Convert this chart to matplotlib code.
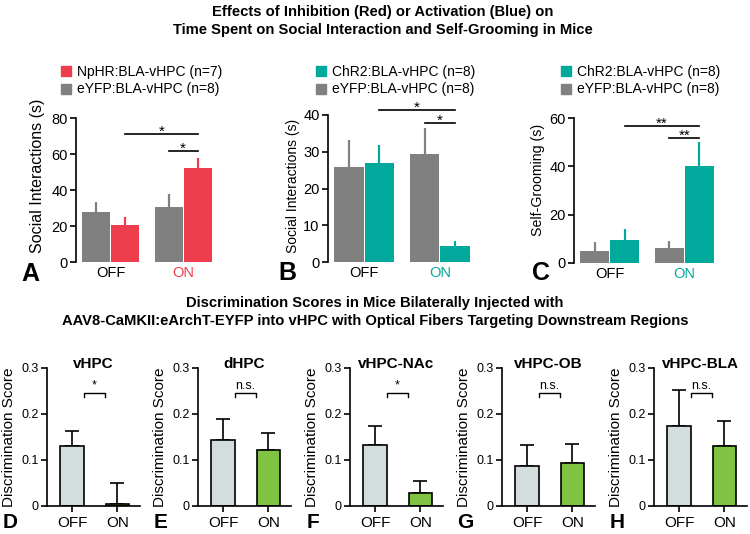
import numpy as np
import matplotlib
matplotlib.use('Agg')
import matplotlib.pyplot as plt
from matplotlib.patches import Patch

plt.rcParams['font.family'] = ['Liberation Sans', 'DejaVu Sans']

W, H = 750, 534
GREY = '#808080'
RED = '#ee3e4e'
TEAL = '#00a99c'
PALE = '#d4dddd'
GREEN = '#80c342'

conds = ['OFF', 'ON']

# top row: social interaction / self-grooming (control eYFP vs opsin)
a_eyfp = [27.8, 30.6]
a_eyfp_err = [5.5, 7.2]
a_nphr = [20.5, 52.2]
a_nphr_err = [4.5, 5.6]
a_sig = [(0.2, 1.2, 71.0, '*'), (0.8, 1.2, 61.6, '*')]

b_eyfp = [25.9, 29.4]
b_eyfp_err = [7.3, 7.1]
b_chr2 = [26.9, 4.3]
b_chr2_err = [4.9, 1.4]
b_sig = [(0.2, 1.2, 41.4, '*'), (0.8, 1.2, 37.8, '*')]

c_eyfp = [5.0, 6.2]
c_eyfp_err = [3.7, 2.9]
c_chr2 = [9.5, 40.1]
c_chr2_err = [4.5, 9.9]
c_sig = [(0.2, 1.2, 56.7, '**'), (0.8, 1.2, 51.7, '**')]

# bottom row: discrimination scores
regions = ['vHPC', 'dHPC', 'vHPC-NAc', 'vHPC-OB', 'vHPC-BLA']
score_off = [0.131, 0.144, 0.133, 0.087, 0.175]
score_off_err = [0.031, 0.046, 0.040, 0.045, 0.077]
score_on = [0.004, 0.121, 0.028, 0.093, 0.130]
score_on_err = [0.045, 0.038, 0.027, 0.041, 0.054]
score_sig = ['*', 'n.s.', '*', 'n.s.', 'n.s.']
sig_level = 0.245

fig = plt.figure(figsize=(7.5, 5.34), dpi=100)


def box(x0, y_top, x1, y_bot):
    return [x0 / W, 1 - y_bot / H, (x1 - x0) / W, (y_bot - y_top) / H]


def top_panel(rect, ctrl, ctrl_err, opto, opto_err, color, ymax, ystep,
              ylabel, ylab_size, ylab_xy, sig, leg_labels, leg_xy, letter, letter_xy):
    ax = fig.add_axes(rect)
    x = np.arange(len(conds))
    ax.bar(x - 0.2, ctrl, 0.39, color=GREY)
    ax.bar(x + 0.2, opto, 0.39, color=color)
    ax.vlines(x - 0.2, ctrl, np.add(ctrl, ctrl_err), color=GREY, lw=1.6)
    ax.vlines(x + 0.2, opto, np.add(opto, opto_err), color=color, lw=1.6)
    for x0, x1, y, s in sig:
        ax.plot([x0, x1], [y, y], color='black', lw=1.2, clip_on=False)
        ax.text((x0 + x1) / 2, y - ymax * 0.012, s, ha='center', va='baseline',
                fontsize=11, clip_on=False)
    ax.set_xlim(-0.48, 1.44)
    ax.set_ylim(0, ymax)
    ax.set_yticks(np.arange(0, ymax + 1, ystep))
    ax.set_xticks(x)
    ax.set_xticklabels(conds, fontsize=10.5)
    ax.get_xticklabels()[1].set_color(color)
    ax.tick_params(axis='x', length=0, pad=3)
    ax.tick_params(axis='y', labelsize=10.5, length=4, width=1.2, pad=2)
    for s in ['top', 'right', 'bottom']:
        ax.spines[s].set_visible(False)
    ax.spines['left'].set_linewidth(1.2)
    ax.set_ylabel(ylabel, fontsize=ylab_size)
    ax.yaxis.set_label_coords(*ylab_xy)
    fig.legend(handles=[Patch(color=color), Patch(color=GREY)], labels=leg_labels,
               loc='upper left', bbox_to_anchor=(leg_xy[0] / W, 1 - leg_xy[1] / H),
               frameon=False, fontsize=10, handlelength=0.75, handleheight=0.75,
               handletextpad=0.4, labelspacing=0.25, borderpad=0, borderaxespad=0)
    fig.text(letter_xy[0] / W, 1 - letter_xy[1] / H, letter, fontsize=18,
             weight='bold', ha='center', va='center')
    return ax


top_panel(box(76, 118, 215, 262), a_eyfp, a_eyfp_err, a_nphr, a_nphr_err, RED,
          80, 20, 'Social Interactions (s)', 11.5, (-0.22, 0.6), a_sig,
          ['NpHR:BLA-vHPC (n=7)', 'eYFP:BLA-vHPC (n=8)'], (61, 65), 'A', (30, 274))
top_panel(box(328, 115, 473, 262), b_eyfp, b_eyfp_err, b_chr2, b_chr2_err, TEAL,
          40, 10, 'Social Interactions (s)', 10, (-0.19, 0.52), b_sig,
          ['ChR2:BLA-vHPC (n=8)', 'eYFP:BLA-vHPC (n=8)'], (316, 65), 'B', (287, 273))
top_panel(box(574, 118, 717, 263), c_eyfp, c_eyfp_err, c_chr2, c_chr2_err, TEAL,
          60, 20, 'Self-Grooming (s)', 10.2, (-0.2, 0.57), c_sig,
          ['ChR2:BLA-vHPC (n=8)', 'eYFP:BLA-vHPC (n=8)'], (561, 65), 'C', (541, 273))

# bottom row
lefts = [47, 198, 350, 502, 654]
letters = ['D', 'E', 'F', 'G', 'H']
for i, name in enumerate(regions):
    x0 = lefts[i]
    ax = fig.add_axes(box(x0, 368, x0 + 93, 506))
    x = np.arange(len(conds))
    ax.bar(x, [score_off[i], score_on[i]], 0.52, color=[PALE, GREEN],
           edgecolor='black', linewidth=1.2, zorder=2)
    ax.errorbar(x, [score_off[i], score_on[i]],
                yerr=[[0, 0], [score_off_err[i], score_on_err[i]]],
                fmt='none', ecolor='black', elinewidth=1.2, capsize=5,
                capthick=1.2, zorder=1)
    ax.plot([0.27, 0.27, 0.73, 0.73],
            [sig_level - 0.008, sig_level, sig_level, sig_level - 0.008],
            color='black', lw=1.0, clip_on=False)
    ax.text(0.5, sig_level + 0.003, score_sig[i], ha='center', va='bottom',
            fontsize=9)
    ax.set_xlim(-0.55, 1.5)
    ax.set_ylim(0, 0.3)
    ax.set_yticks([0, 0.1, 0.2, 0.3])
    ax.set_yticklabels(['0', '0.1', '0.2', '0.3'])
    ax.set_xticks(x)
    ax.set_xticklabels(conds, fontsize=11)
    ax.tick_params(axis='x', length=4, width=1.2, pad=3)
    ax.tick_params(axis='y', labelsize=9, length=4, width=1.2, pad=2)
    for s in ['top', 'right']:
        ax.spines[s].set_visible(False)
    for s in ['left', 'bottom']:
        ax.spines[s].set_linewidth(1.2)
    ax.set_ylabel('Discrimination Score', fontsize=11)
    ax.yaxis.set_label_coords(-0.33, 0.5)
    ax.text(0.5, 1.03, name, transform=ax.transAxes, ha='center', va='center',
            fontsize=11, weight='bold')
    fig.text((x0 - 37) / W, 1 - 523 / H, letters[i], fontsize=15,
             weight='bold', ha='center', va='center')

title_size = 10.6
fig.text(0.51, 1 - 12 / H, 'Effects of Inhibition (Red) or Activation (Blue) on',
         ha='center', va='center', fontsize=title_size, weight='bold')
fig.text(0.51, 1 - 30 / H, 'Time Spent on Social Interaction and Self-Grooming in Mice',
         ha='center', va='center', fontsize=title_size, weight='bold')
fig.text(0.5, 1 - 303 / H, 'Discrimination Scores in Mice Bilaterally Injected with',
         ha='center', va='center', fontsize=title_size, weight='bold')
fig.text(0.5, 1 - 321 / H,
         'AAV8-CaMKII:eArchT-EYFP into vHPC with Optical Fibers Targeting Downstream Regions',
         ha='center', va='center', fontsize=title_size, weight='bold')

fig.savefig('out.png', dpi=100)
